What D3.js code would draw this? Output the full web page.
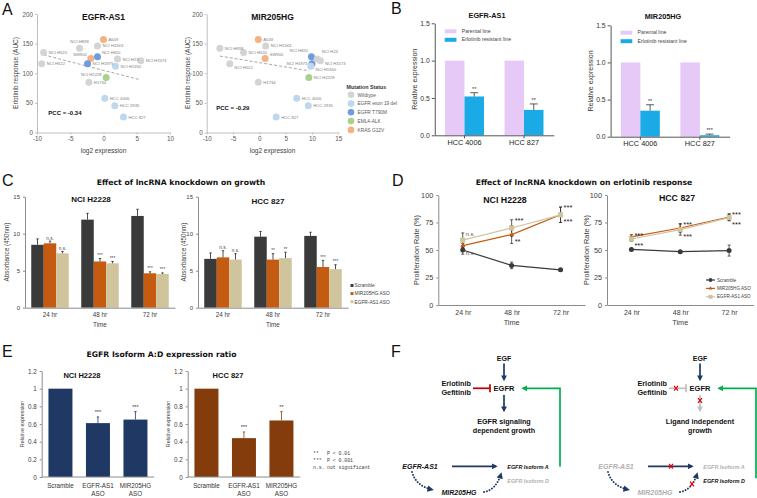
<!DOCTYPE html>
<html>
<head>
<meta charset="utf-8">
<script src="https://cdn.jsdelivr.net/npm/d3@7/dist/d3.min.js"></script>
<style>
  body { margin: 0; background: #fff; }
  svg { display: block; }
</style>
</head>
<body>
<svg id="fig" width="757" height="498"></svg>
<script>
// ---- A: erlotinib response vs lncRNA expression ----
const cellLines = ["NCI H838","A549","NCI H1563","NCI H520","SW900","NCI H820","NCI H1975","NCI H522","NCI H23","NCI H1573","NCI H1650","NCI H2228","H1734","HCC 4006","HCC 2935","HCC 827"];
const mutation = ["Wildtype","KRAS G12V","Wildtype","Wildtype","KRAS G12V","EGFR T790M","EGFR T790M","Wildtype","Wildtype","Wildtype","EGFR exon 19 del","EML4-ALK","Wildtype","EGFR exon 19 del","EGFR exon 19 del","EGFR exon 19 del"];
const aucResponse = [142,157,146,135,125,128,116,116,124,121,112,93,85,58,45,26];
const as1Expr = [-3.6,0.0,-0.9,-9.0,-1.9,-0.9,-2.4,-9.3,2.1,5.6,1.8,0.4,-2.2,0.2,1.7,3.0];
const hgExpr = [-7.5,-0.2,1.2,-3.0,1.1,9.9,10.0,-5.6,11.0,11.6,9.8,9.4,-0.2,7.1,9.3,3.2];
const mutationTypes = ["Wildtype","EGFR exon 19 del","EGFR T790M","EML4-ALK","KRAS G12V"];
const aucTicks = [0,50,100,150,200];
const as1Trend = [[-9,131],[5.5,89]];
const hgTrend = [[-7.5,129],[9.5,104]];

// ---- B: expression in resistant lines ----
const bCellLines = ["HCC 4006","HCC 827"];
const bSeries = ["Parental line","Erlotinib resistant line"];
const as1Parental = [1,1];
const as1Resistant = [0.52,0.34];
const as1ResistantErr = [0.05,0.08];
const as1Sig = ["**","**"];
const hgParental = [1,1];
const hgResistant = [0.35,0.02];
const hgResistantErr = [0.08,0.015];
const hgSig = ["**","***"];
const bTicks = [0,0.5,1,1.5];

// ---- C: growth after knockdown ----
const timePoints = ["24 hr","48 hr","72 hr"];
const asoSeries = ["Scramble","MIR205HG ASO","EGFR-AS1 ASO"];
const growH2228Scr = [8.5,11.9,12.4], growH2228ScrErr = [0.8,0.85,0.9];
const growH2228Mir = [8.7,6.25,4.65], growH2228MirErr = [0.3,0.4,0.2];
const growH2228As = [7.35,6.0,4.55], growH2228AsErr = [0.25,0.25,0.15];
const growH2228MirSig = ["n.s.","***","***"], growH2228AsSig = ["n.s.","***","***"];
const grow827Scr = [6.6,9.6,9.7], grow827ScrErr = [0.8,0.7,0.5];
const grow827Mir = [6.8,6.5,5.5], grow827MirErr = [0.9,0.8,0.9];
const grow827As = [6.5,6.7,5.2], grow827AsErr = [0.8,0.8,0.6];
const grow827MirSig = ["n.s.","**","***"], grow827AsSig = ["n.s.","**","***"];
const growTicks = [0,5,10,15];

// ---- D: proliferation under erlotinib ----
const profH2228Scr = [50,36,32], profH2228ScrErr = [3.8,3,1];
const profH2228Mir = [54,64,82], profH2228MirErr = [2,8,7];
const profH2228As = [59,70,82], profH2228AsErr = [6.5,7.5,7];
const profH2228MirSig = ["n.s.","**","***"], profH2228AsSig = ["n.s.","***","***"];
const prof827Scr = [50.5,48.5,49.5], prof827ScrErr = [1,1,5];
const prof827Mir = [62,70,80], prof827MirErr = [2,4,3];
const prof827As = [60,68.5,79.5], prof827AsErr = [2,5,3];
const prof827MirSig = ["***","***","***"], prof827AsSig = ["***","***","***"];
const profTicks = [0,25,50,75,100];

// ---- E: isoform A:D ratio ----
const eGroups = ["Scramble","EGFR-AS1 ASO","MIR205HG ASO"];
const ratioH2228 = [1,0.61,0.65], ratioH2228Err = [0,0.07,0.09], ratioH2228Sig = ["","***","***"];
const ratio827 = [1,0.44,0.64], ratio827Err = [0,0.07,0.1], ratio827Sig = ["","***","**"];
const ratioTicks = [0,0.2,0.4,0.6,0.8,1,1.2];
const sigKey = ["**","***","n.s."];
const sigMeaning = ["P < 0.01","P < 0.001","not significant"];

// ---- F: model ----
const inhibitors = ["Erlotinib","Gefitinib"];
const outcomeLeft = ["EGFR signaling","dependent growth"];
const outcomeRight = ["Ligand independent","growth"];

const FONT = "'Liberation Sans', Arial, sans-serif";
const VERD = "'DejaVu Sans', Verdana, sans-serif";
const svg = d3.select("#fig").attr("font-family", FONT);
svg.append("rect").attr("width", 757).attr("height", 498).attr("fill", "#fff");
const defs = svg.append("defs");

function txt(g, x, y, s, o = {}) {
  const t = g.append("text").attr("x", x).attr("y", y).text(s)
    .attr("font-size", o.size || 6).attr("fill", o.fill || "#222")
    .attr("text-anchor", o.anchor || "start");
  if (o.bold) t.attr("font-weight", "bold");
  if (o.italic) t.attr("font-style", "italic");
  if (o.family) t.attr("font-family", o.family);
  if (o.rotate) t.attr("transform", `rotate(-90,${x},${y})`);
  return t;
}
function styleAxis(sel, line, size, fill) {
  sel.attr("font-family", FONT).attr("font-size", size);
  sel.select(".domain").attr("stroke", line);
  sel.selectAll(".tick line").attr("stroke", line);
  sel.selectAll(".tick text").attr("fill", fill);
}
function errUp(g, x, yv, ye, cap, color) {
  g.append("line").attr("x1", x).attr("x2", x).attr("y1", yv).attr("y2", ye).attr("stroke", color).attr("stroke-width", 0.8);
  g.append("line").attr("x1", x - cap).attr("x2", x + cap).attr("y1", ye).attr("y2", ye).attr("stroke", color).attr("stroke-width", 0.8);
}
const letters = [["A",2,15],["B",391,14],["C",2,186],["D",392,186],["E",2,357],["F",391,357]];
letters.forEach(l => txt(svg, l[1], l[2], l[0], {size: 16, fill: "#111"}));

// ================= A =================
const mutColors = ["#d4d4d4","#bdd7ee","#6f9be2","#a9d18e","#f4b183"];
const mutColor = m => mutColors[mutationTypes.indexOf(m)];
function scatterA(o) {
  const g = svg.append("g");
  const x = d3.scaleLinear().domain(o.xDomain).range(o.xRange);
  const y = d3.scaleLinear().domain([0, 200]).range([132.5, 14]);
  const ax = g.append("g").attr("transform", `translate(0,${y(0)})`)
    .call(d3.axisBottom(x).tickValues(o.xTicks).tickFormat(d => String(d)).tickSize(2).tickSizeOuter(0).tickPadding(2));
  styleAxis(ax, "#bfbfbf", 6.3, "#595959");
  const ay = g.append("g").attr("transform", `translate(${o.xRange[0]},0)`)
    .call(d3.axisLeft(y).tickValues(aucTicks).tickSize(2).tickSizeOuter(0).tickPadding(2));
  styleAxis(ay, "#bfbfbf", 6.3, "#595959");
  g.append("line")
    .attr("x1", x(o.trend[0][0])).attr("y1", y(o.trend[0][1]))
    .attr("x2", x(o.trend[1][0])).attr("y2", y(o.trend[1][1]))
    .attr("stroke", "#a6a6a6").attr("stroke-dasharray", "3,2");
  cellLines.forEach((c, i) => {
    g.append("circle").attr("cx", x(o.expr[i])).attr("cy", y(aucResponse[i])).attr("r", 3.5)
      .attr("fill", mutColor(mutation[i]));
  });
  cellLines.forEach((c, i) => {
    const p = o.place[c] || [5, 1.5, "start"];
    txt(g, x(o.expr[i]) + p[0], y(aucResponse[i]) + p[1], c, {size: 4.2, fill: "#808080", anchor: p[2]});
  });
  txt(g, (o.xRange[0] + o.xRange[1]) / 2, 20, o.title, {size: 8.5, bold: true, anchor: "middle", fill: "#111"});
  txt(g, (o.xRange[0] + o.xRange[1]) / 2, 153, "log2 expression", {size: 6.5, anchor: "middle", fill: "#404040"});
  txt(g, o.ylabX, 73, "Erlotinib response (AUC)", {size: 6.5, anchor: "middle", fill: "#404040", rotate: true});
  txt(g, x(o.pccAt[0]), y(o.pccAt[1]), o.pcc, {size: 6, bold: true, fill: "#111"});
}
scatterA({xDomain: [-10, 10], xRange: [37, 170], xTicks: [-10,-5,0,5,10], expr: as1Expr, trend: as1Trend,
  title: "EGFR-AS1", ylabX: 17.5, pcc: "PCC = -0.34", pccAt: [-8.3, 30],
  place: {"NCI H838": [0, -5, "middle"], "SW900": [-4, -2, "end"], "NCI H2228": [-4.5, -1, "end"], "NCI H820": [4.5, -3, "start"]}});
scatterA({xDomain: [-10, 15], xRange: [206.7, 338.3], xTicks: [-10,-5,0,5,10,15], expr: hgExpr, trend: hgTrend,
  title: "MIR205HG", ylabX: 190, pcc: "PCC = -0.29", pccAt: [-8.2, 38],
  place: {"NCI H820": [-3.5, -5, "end"], "NCI H1975": [-4.5, 1.5, "end"], "NCI H23": [4.5, -6, "start"], "NCI H1573": [4.5, 4, "start"],
          "NCI H1650": [4.5, 4.5, "start"], "NCI H522": [4.5, 5, "start"], "SW900": [4.5, -2, "start"]}});
// legend A
const legA = svg.append("g");
txt(legA, 346.5, 89, "Mutation Status", {size: 5.3, bold: true, fill: "#333"});
mutationTypes.forEach((m, i) => {
  legA.append("circle").attr("cx", 351).attr("cy", 94.7 + i * 8.8).attr("r", 3.3).attr("fill", mutColors[i]);
  txt(legA, 357.5, 96.5 + i * 8.8, m, {size: 4.8, fill: "#595959"});
});

// ================= B =================
const bColors = ["#e6c9f6", "#1aaae6"];
function barsB(o) {
  const g = svg.append("g");
  const x0 = d3.scaleBand().domain(bCellLines).range(o.xr).paddingInner(0.345).paddingOuter(0.1725);
  const x1 = d3.scaleBand().domain(bSeries).range([0, x0.bandwidth()]);
  const y = d3.scaleLinear().domain([0, 1.5]).range(o.yr);
  bCellLines.forEach((c, i) => {
    [o.par, o.res].forEach((vals, s) => {
      g.append("rect").attr("x", x0(c) + x1(bSeries[s])).attr("y", y(vals[i]))
        .attr("width", x1.bandwidth()).attr("height", y(0) - y(vals[i])).attr("fill", bColors[s]);
    });
    const cx = x0(c) + x1(bSeries[1]) + x1.bandwidth() / 2;
    errUp(g, cx, y(o.res[i]), y(o.res[i] + o.err[i]), 4, "#333");
    txt(g, cx, y(o.res[i] + o.err[i]) - 2, o.sig[i], {size: 5.5, anchor: "middle", fill: "#333"});
  });
  const ay = g.append("g").attr("transform", `translate(${o.xr[0]},0)`)
    .call(d3.axisLeft(y).tickValues(bTicks).tickFormat(d3.format(".1f")).tickSize(3).tickSizeOuter(0).tickPadding(2));
  styleAxis(ay, "#555", 6.8, "#333");
  const ax = g.append("g").attr("transform", `translate(0,${y(0)})`)
    .call(d3.axisBottom(x0).tickSize(3).tickSizeOuter(0).tickPadding(1.5));
  styleAxis(ax, "#555", 7.3, "#222");
  txt(g, o.titleX, o.titleY, o.title, {size: 7.3, bold: true, anchor: "middle", fill: "#111"});
  txt(g, o.ylabX, (o.yr[0] + o.yr[1]) / 2, "Relative expression", {size: 7, anchor: "middle", fill: "#333", rotate: true});
  bSeries.forEach((s, i) => {
    g.append("rect").attr("x", o.xr[0] + 10).attr("y", o.legY + i * 8.5).attr("width", 11.7).attr("height", 4).attr("fill", bColors[i]);
    txt(g, o.xr[0] + 27, o.legY + 3.6 + i * 8.5, s, {size: 5.2, fill: "#444"});
  });
}
barsB({xr: [434.75, 553.75], yr: [135.3, 23.3], par: as1Parental, res: as1Resistant, err: as1ResistantErr, sig: as1Sig,
  title: "EGFR-AS1", titleX: 487, titleY: 17.5, ylabX: 417, legY: 29.3});
barsB({xr: [610.6, 729.6], yr: [136.7, 25.3], par: hgParental, res: hgResistant, err: hgResistantErr, sig: hgSig,
  title: "MIR205HG", titleX: 663, titleY: 19, ylabX: 593, legY: 30.7});

// ================= C =================
const asoColors = ["#3a3a3a", "#c55a11", "#d0c49c"];
txt(svg, 181, 184.5, "Effect of lncRNA knockdown on growth", {size: 7.7, bold: true, anchor: "middle", family: VERD, fill: "#111"});
function barsC(o) {
  const g = svg.append("g");
  const x0 = d3.scaleBand().domain(timePoints).range(o.xr).paddingInner(0.25).paddingOuter(0.125);
  const x1 = d3.scaleBand().domain(asoSeries).range([0, x0.bandwidth()]);
  const y = d3.scaleLinear().domain([0, 15]).range([307.7, 196.7]);
  timePoints.forEach((t, i) => {
    o.vals.forEach((vals, s) => {
      const bx = x0(t) + x1(asoSeries[s]);
      g.append("rect").attr("x", bx).attr("y", y(vals[i])).attr("width", x1.bandwidth())
        .attr("height", y(0) - y(vals[i])).attr("fill", asoColors[s]);
      const cx = bx + x1.bandwidth() / 2;
      errUp(g, cx, y(vals[i]), y(vals[i] + o.errs[s][i]), 1.2, "#222");
      if (s > 0) txt(g, cx, y(vals[i] + o.errs[s][i]) - 1.5, o.sigs[s - 1][i], {size: 4.6, anchor: "middle", fill: "#444"});
    });
  });
  const ay = g.append("g").attr("transform", `translate(${o.xr[0]},0)`)
    .call(d3.axisLeft(y).tickValues(growTicks).tickSize(2).tickSizeOuter(0).tickPadding(3));
  styleAxis(ay, "#8c8c8c", 6, "#404040");
  const ax = g.append("g").attr("transform", `translate(0,${y(0)})`)
    .call(d3.axisBottom(x0).tickSize(0).tickSizeOuter(0).tickPadding(5));
  styleAxis(ax, "#8c8c8c", 6.3, "#404040");
  const mid = (o.xr[0] + o.xr[1]) / 2;
  txt(g, mid, 327, "Time", {size: 6.3, anchor: "middle", fill: "#404040"});
  txt(g, o.titleX, o.titleY, o.title, {size: 8, bold: true, anchor: "middle", fill: "#111"});
  txt(g, o.ylabX, 252, "Absorbance (450nm)", {size: 6.3, anchor: "middle", fill: "#404040", rotate: true});
}
barsC({xr: [25, 175], vals: [growH2228Scr, growH2228Mir, growH2228As], errs: [growH2228ScrErr, growH2228MirErr, growH2228AsErr],
  sigs: [growH2228MirSig, growH2228AsSig], title: "NCI H2228", titleX: 91, titleY: 202, ylabX: 8.5});
barsC({xr: [198, 348], vals: [grow827Scr, grow827Mir, grow827As], errs: [grow827ScrErr, grow827MirErr, grow827AsErr],
  sigs: [grow827MirSig, grow827AsSig], title: "HCC 827", titleX: 268, titleY: 204, ylabX: 185.5});
const legC = svg.append("g");
asoSeries.forEach((s, i) => {
  legC.append("rect").attr("x", 350.5).attr("y", 284 + i * 8.1).attr("width", 3).attr("height", 3).attr("fill", asoColors[i]);
  txt(legC, 354.5, 287.3 + i * 8.1, s, {size: 4.8, fill: "#404040"});
});

// ================= D =================
const dSyms = [[d3.symbolCircle, 20], [d3.symbolTriangle, 11], [d3.symbolSquare, 26]];
txt(svg, 584, 184.5, "Effect of lncRNA knockdown on erlotinib response", {size: 7.7, bold: true, anchor: "middle", family: VERD, fill: "#111"});
function linesD(o) {
  const g = svg.append("g");
  const x = d3.scalePoint().domain(timePoints).range(o.xr).padding(0.5);
  const y = d3.scaleLinear().domain([0, 100]).range([305, 195]);
  const ay = g.append("g").attr("transform", `translate(${o.xr[0]},0)`)
    .call(d3.axisLeft(y).tickValues(profTicks).tickSize(2).tickSizeOuter(0).tickPadding(3));
  styleAxis(ay, "#8c8c8c", 7.3, "#404040");
  const ax = g.append("g").attr("transform", `translate(0,${y(0)})`)
    .call(d3.axisBottom(x).tickSize(0).tickSizeOuter(0).tickPadding(5));
  styleAxis(ax, "#8c8c8c", 7, "#404040");
  const line = d3.line().x((d, i) => x(timePoints[i])).y(d => y(d));
  o.vals.forEach((vals, s) => {
    g.append("path").attr("d", line(vals)).attr("fill", "none").attr("stroke", asoColors[s]).attr("stroke-width", 1.2);
  });
  o.vals.forEach((vals, s) => {
    vals.forEach((v, i) => {
      const cx = x(timePoints[i]);
      g.append("line").attr("x1", cx).attr("x2", cx).attr("y1", y(v - o.errs[s][i])).attr("y2", y(v + o.errs[s][i])).attr("stroke", "#333").attr("stroke-width", 0.8);
      [v - o.errs[s][i], v + o.errs[s][i]].forEach(e => g.append("line").attr("x1", cx - 1.5).attr("x2", cx + 1.5).attr("y1", y(e)).attr("y2", y(e)).attr("stroke", "#333").attr("stroke-width", 0.8));
    });
  });
  o.vals.forEach((vals, s) => {
    vals.forEach((v, i) => {
      g.append("path").attr("d", d3.symbol(dSyms[s][0], dSyms[s][1])()).attr("transform", `translate(${x(timePoints[i])},${y(v)})`).attr("fill", asoColors[s]);
    });
  });
  // significance marks beside points
  timePoints.forEach((t, i) => {
    const cx = x(t);
    const hi = o.vals[2][i] >= o.vals[1][i] ? 2 : 1, lo = 3 - hi;
    const hiTop = y(o.vals[hi][i] + o.errs[hi][i]);
    const loPt = y(o.vals[lo][i]);
    const sHi = o.sigs[hi - 1][i], sLo = o.sigs[lo - 1][i];
    const big = s => s === "n.s." ? {size: 5.6, fill: "#555"} : {size: 7.5, fill: "#222"};
    txt(g, cx + 3, hiTop + 3, sHi, big(sHi));
    txt(g, cx + 3, loPt + 9, sLo, big(sLo));
  });
  const mid = (o.xr[0] + o.xr[1]) / 2;
  txt(g, mid, 325, "Time", {size: 7.3, anchor: "middle", fill: "#404040"});
  txt(g, o.titleX, o.titleY, o.title, {size: 8.8, bold: true, anchor: "middle", fill: "#111"});
  txt(g, o.ylabX, 250, "Proliferation Rate (%)", {size: 7.3, anchor: "middle", fill: "#404040", rotate: true});
}
linesD({xr: [438.3, 585], vals: [profH2228Scr, profH2228Mir, profH2228As], errs: [profH2228ScrErr, profH2228MirErr, profH2228AsErr],
  sigs: [profH2228MirSig, profH2228AsSig], title: "NCI H2228", titleX: 505, titleY: 202.5, ylabX: 418.5});
linesD({xr: [607, 753.5], vals: [prof827Scr, prof827Mir, prof827As], errs: [prof827ScrErr, prof827MirErr, prof827AsErr],
  sigs: [prof827MirSig, prof827AsSig], title: "HCC 827", titleX: 677, titleY: 200.5, ylabX: 588.5});
const legD = svg.append("g");
asoSeries.forEach((s, i) => {
  const ly = 280 + i * 8.4;
  legD.append("line").attr("x1", 706).attr("x2", 715).attr("y1", ly).attr("y2", ly).attr("stroke", asoColors[i]).attr("stroke-width", 1.2);
  legD.append("path").attr("d", d3.symbol(dSyms[i][0], dSyms[i][1] * 0.6)()).attr("transform", `translate(710.5,${ly})`).attr("fill", asoColors[i]);
  txt(legD, 717, ly + 1.6, s, {size: 4.6, fill: "#404040"});
});

// ================= E =================
txt(svg, 161.5, 357, "EGFR Isoform A:D expression ratio", {size: 7.7, bold: true, anchor: "middle", family: VERD, fill: "#111"});
function barsE(o) {
  const g = svg.append("g");
  const x = d3.scaleBand().domain(eGroups).range(o.xr).paddingInner(0.36).paddingOuter(0.18);
  const y = d3.scaleLinear().domain([0, 1.2]).range([477, 371]);
  eGroups.forEach((c, i) => {
    g.append("rect").attr("x", x(c)).attr("y", y(o.vals[i])).attr("width", x.bandwidth())
      .attr("height", y(0) - y(o.vals[i])).attr("fill", o.color);
    const cx = x(c) + x.bandwidth() / 2;
    if (o.errs[i] > 0) errUp(g, cx, y(o.vals[i]), y(o.vals[i] + o.errs[i]), 1.2, o.color);
    if (o.sigs[i]) txt(g, cx, y(o.vals[i] + o.errs[i]) - 3, o.sigs[i], {size: 5.5, anchor: "middle", fill: "#333"});
    const words = c.split(" ");
    words.forEach((w, k) => txt(g, cx, 488 + k * 7.8, w, {size: 6.3, anchor: "middle", fill: "#333"}));
  });
  const ay = g.append("g").attr("transform", `translate(${o.xr[0]},0)`)
    .call(d3.axisLeft(y).tickValues(ratioTicks).tickFormat(d => String(+d.toFixed(1))).tickSize(2).tickSizeOuter(0).tickPadding(3));
  styleAxis(ay, "#8c8c8c", 6.3, "#404040");
  g.append("line").attr("x1", o.xr[0]).attr("x2", o.xr[1]).attr("y1", y(0)).attr("y2", y(0)).attr("stroke", "#8c8c8c");
  txt(g, o.titleX, 377.5, o.title, {size: 7.5, bold: true, anchor: "middle", fill: "#111"});
  txt(g, o.ylabX, 424, "Relative expression", {size: 5.3, anchor: "middle", fill: "#404040", rotate: true});
}
barsE({xr: [41.7, 154.2], vals: ratioH2228, errs: ratioH2228Err, sigs: ratioH2228Sig, color: "#203864", title: "NCI H2228", titleX: 82, ylabX: 23.5});
barsE({xr: [187.7, 300.2], vals: ratio827, errs: ratio827Err, sigs: ratio827Sig, color: "#843c0c", title: "HCC 827", titleX: 228, ylabX: 169.5});
sigKey.forEach((k, i) => {
  txt(svg, 313, 455 + i * 7.2, k, {size: 4.8, family: "'Liberation Mono', monospace", fill: "#404040"});
  txt(svg, 327, 455 + i * 7.2, sigMeaning[i], {size: 4.8, family: "'Liberation Mono', monospace", fill: "#404040"});
});

// ================= F =================
const navy = "#1f3864", green = "#00b050", red = "#c00000", grey = "#bfbfbf";
[["mNavy", navy], ["mGreen", green], ["mGrey", grey]].forEach(([id, c]) => {
  defs.append("marker").attr("id", id).attr("viewBox", "0 0 10 10").attr("refX", 7).attr("refY", 5)
    .attr("markerWidth", 3.4).attr("markerHeight", 3.4).attr("orient", "auto")
    .append("path").attr("d", "M0,0L10,5L0,10z").attr("fill", c);
});
function redX(g, x, y) {
  g.append("path").attr("d", `M${x - 2},${y - 2.4}L${x + 2},${y + 2.4}M${x + 2},${y - 2.4}L${x - 2},${y + 2.4}`)
    .attr("stroke", "#e00000").attr("stroke-width", 1.2);
}
function arrow(g, d, color, mk, dotted) {
  const p = g.append("path").attr("d", d).attr("fill", "none").attr("stroke", color).attr("stroke-width", 1.7)
    .attr("marker-end", `url(#${mk})`);
  if (dotted) p.attr("stroke-dasharray", "0.1,2.8").attr("stroke-linecap", "round").attr("stroke-width", 1.9);
  return p;
}
function pathway(cx, resistant) {
  const g = svg.append("g");
  const dark = "#111";
  txt(g, cx, 360.5, "EGF", {size: 7, bold: true, anchor: "middle", fill: dark});
  arrow(g, `M${cx},363.5L${cx},379.5`, navy, "mNavy");
  txt(g, cx, 391.2, "EGFR", {size: 7.5, bold: true, anchor: "middle", fill: dark});
  inhibitors.forEach((s, i) => txt(g, cx - 33, 386.2 + i * 9, s, {size: 7.3, bold: true, anchor: "end", fill: dark}));
  const ic = resistant ? grey : red;
  g.append("line").attr("x1", cx - 31).attr("x2", cx - 14).attr("y1", 388.3).attr("y2", 388.3).attr("stroke", ic).attr("stroke-width", 1.7);
  g.append("line").attr("x1", cx - 14).attr("x2", cx - 14).attr("y1", 384.3).attr("y2", 392.3).attr("stroke", ic).attr("stroke-width", 1.7);
  if (resistant) redX(g, cx - 24, 388.3);
  arrow(g, `M${cx},395L${cx},410.5`, resistant ? grey : navy, resistant ? "mGrey" : "mNavy");
  if (resistant) redX(g, cx, 400.5);
  (resistant ? outcomeRight : outcomeLeft).forEach((s, i) => txt(g, cx, 423.5 + i * 9, s, {size: 7.2, bold: true, anchor: "middle", fill: dark}));
  const gy = resistant ? 478.3 : 466.7;
  arrow(g, `M${cx + 56},${gy}L${cx + 56},388.3L${cx + 19},388.3`, green, "mGreen");
  txt(g, cx - 84, 469, "EGFR-AS1", {size: 7, bold: true, italic: true, anchor: "middle", fill: resistant ? "#b0b0b0" : dark});
  arrow(g, `M${cx - 52},466.3L${cx - 8},466.3`, navy, "mNavy");
  if (resistant) redX(g, cx - 29, 466.3);
  txt(g, cx + 3.3, 468.5, "EGFR Isoform A", {size: 5.4, bold: true, italic: true, fill: resistant ? "#b0b0b0" : dark});
  txt(g, cx + 3.3, 482.5, "EGFR Isoform D", {size: 5.4, bold: true, italic: true, fill: resistant ? dark : "#b0b0b0"});
  txt(g, cx - 45, 495, "MIR205HG", {size: 7, bold: true, italic: true, anchor: "middle", fill: resistant ? "#b0b0b0" : dark});
  arrow(g, `M${cx - 92},472Q${cx - 88},486 ${cx - 72},489.5`, navy, "mNavy", true);
  arrow(g, `M${cx - 20},492Q${cx - 8},490 ${cx - 3},474`, navy, "mNavy", true);
  if (resistant) redX(g, cx - 8, 484);
}
pathway(504, false);
pathway(700, true);
</script>
</body>
</html>
